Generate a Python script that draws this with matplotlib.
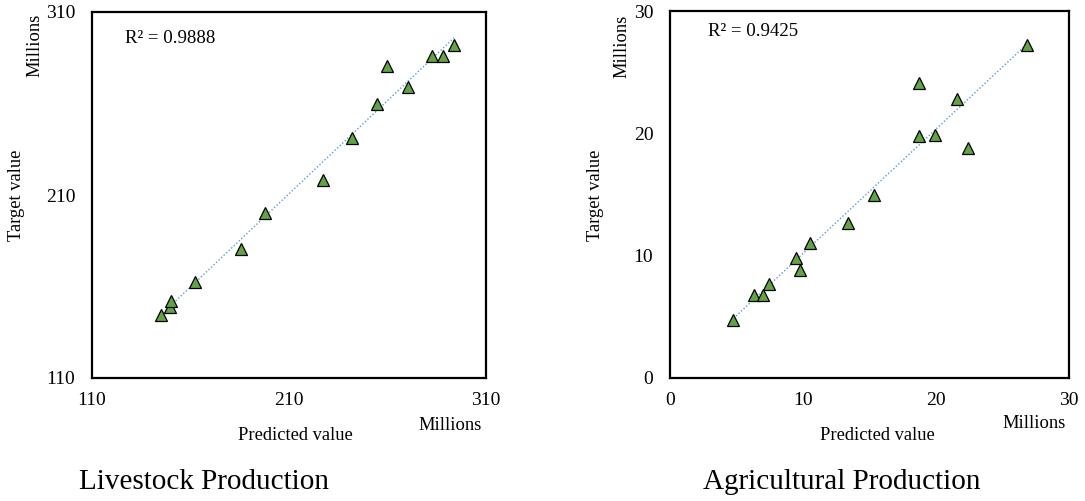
import numpy as np
import matplotlib
matplotlib.use("Agg")
import matplotlib.pyplot as plt

plt.rcParams['font.family'] = ['Liberation Serif', 'DejaVu Serif']

# Livestock production (millions)
live_pred = [144.8, 149.4, 149.9, 162.2, 185.6, 197.6, 227.2, 241.9, 254.9,
             259.6, 270.4, 282.8, 288.2, 293.8]
live_target = [144.4, 148.8, 152.3, 162.3, 180.3, 200.3, 218.4, 241.0, 259.9,
               280.5, 269.0, 285.8, 285.8, 291.8]
live_r2 = "R² = 0.9888"
live_ticks = [110, 210, 310]

# Agricultural production (millions)
agri_pred = [4.77, 6.32, 6.97, 7.42, 9.51, 9.76, 10.56, 13.42, 15.37, 18.71,
             18.71, 19.94, 21.57, 22.42, 26.81]
agri_target = [4.78, 6.82, 6.77, 7.67, 9.79, 8.81, 11.07, 12.68, 14.97, 19.77,
               24.14, 19.86, 22.83, 18.82, 27.22]
agri_r2 = "R² = 0.9425"
agri_ticks = [0, 10, 20, 30]

W, H = 1085, 501
fig = plt.figure(figsize=(W / 100, H / 100), dpi=100)


def px_axes(x0, y0, x1, y1):
    return fig.add_axes([x0 / W, 1 - y1 / H, (x1 - x0) / W, (y1 - y0) / H])


def panel(ax, xs, ys, ticks, r2, r2_xy):
    xs = np.asarray(xs)
    ys = np.asarray(ys)
    k, b = np.polyfit(xs, ys, 1)
    xl = np.array([xs.min(), xs.max()])
    ax.plot(xl, k * xl + b, linestyle=(0, (1, 1.5)), color='#5B9BD5', lw=1.0, zorder=2)
    ax.plot(xs, ys, linestyle='none', marker='^', ms=8, mfc='#62a444',
            mec='black', mew=0.9, zorder=3)
    ax.set_xlim(ticks[0], ticks[-1])
    ax.set_ylim(ticks[0], ticks[-1])
    ax.set_xticks(ticks)
    ax.set_yticks(ticks)
    ax.tick_params(length=0, labelsize=14, pad=10)
    ax.tick_params(axis='y', pad=12)
    for s in ax.spines.values():
        s.set_linewidth(1.6)
    ax.text(r2_xy[0], r2_xy[1], r2, transform=ax.transAxes, fontsize=13.6,
            va='center', ha='left')


ax1 = px_axes(92, 12, 486, 378)
panel(ax1, live_pred, live_target, live_ticks, live_r2, (0.083, 0.927))
ax2 = px_axes(670, 11, 1069, 378)
panel(ax2, agri_pred, agri_target, agri_ticks, agri_r2, (0.095, 0.943))

lab = dict(fontsize=13.3, ha='center', va='center')
# left panel labels
fig.text(17 / W, 1 - 195 / H, "Target value", rotation=90, **lab)
fig.text(35 / W, 1 - 45 / H, "Millions", rotation=90, **lab)
fig.text(295 / W, 1 - 435 / H, "Predicted value", **lab)
fig.text(450 / W, 1 - 425 / H, "Millions", **lab)
# right panel labels
fig.text(595 / W, 1 - 195 / H, "Target value", rotation=90, **lab)
fig.text(622 / W, 1 - 46 / H, "Millions", rotation=90, **lab)
fig.text(877 / W, 1 - 436 / H, "Predicted value", **lab)
fig.text(1034 / W, 1 - 424 / H, "Millions", **lab)

# panel captions
fig.text(204 / W, 1 - 482 / H, "Livestock Production", fontsize=21, ha='center', va='center')
fig.text(842 / W, 1 - 482 / H, "Agricultural Production", fontsize=21, ha='center', va='center')

fig.savefig("out.png", dpi=100)
